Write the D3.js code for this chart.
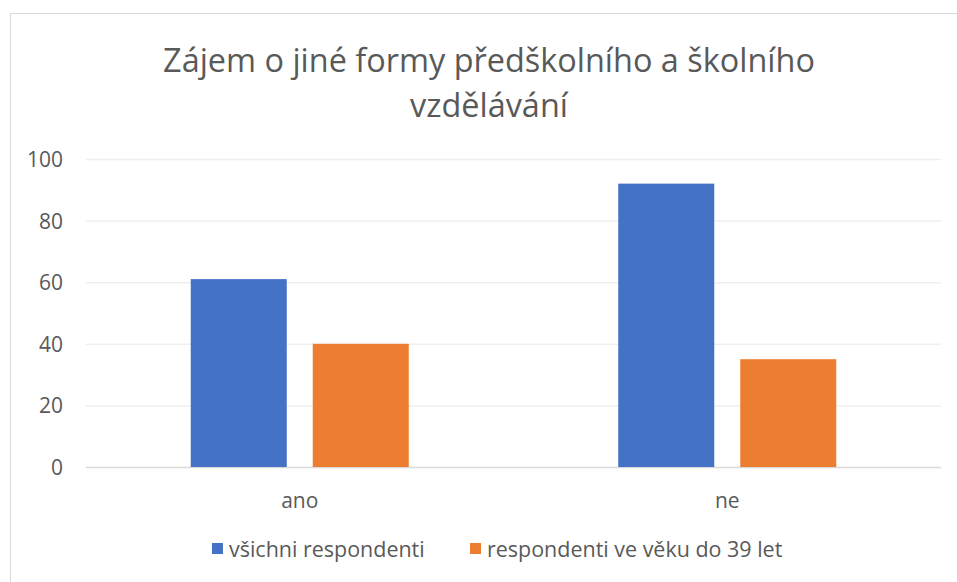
<!DOCTYPE html>
<html>
<head>
<meta charset="utf-8">
<script src="https://cdn.jsdelivr.net/npm/d3@7"></script>
<style>
  html, body { margin: 0; padding: 0; background: #fff; }
  svg { display: block; }
  text { font-family: "Open Sans", "Liberation Sans", "DejaVu Sans", sans-serif; fill: #595959; }
</style>
</head>
<body>
<svg id="chart" width="957" height="582"></svg>
<script>
const titleLines = ["Zájem o jiné formy předškolního a školního", "vzdělávání"];
const categories = ["ano", "ne"];
const seriesNames = ["všichni respondenti", "respondenti ve věku do 39 let"];
const allRespondents = [61, 92];
const under39 = [40, 35];
const yTickValues = [0, 20, 40, 60, 80, 100];
const seriesColors = ["#4472C4", "#ED7D31"];

const svg = d3.select("#chart");

// font size that makes an element's text reach a target width
function fittedSize(node, target) {
  const base = 20;
  d3.select(node).attr("font-size", base);
  const w = node.getComputedTextLength();
  return w > 0 ? base * target / w : base;
}

// outer chart border
svg.append("rect")
  .attr("x", 10.5).attr("y", 13.5)
  .attr("width", 960).attr("height", 600)
  .attr("fill", "#fff").attr("stroke", "#d9d9d9").attr("stroke-width", 1);

const plot = { left: 86, right: 941, top: 159, bottom: 467 };

const x = d3.scaleBand().domain(categories).range([plot.left, plot.right]).padding(0);
const groupWidth = x.bandwidth() * 0.51;
const xInner = d3.scaleBand().domain(seriesNames).range([0, groupWidth]).paddingInner(0.213).paddingOuter(0);
const y = d3.scaleLinear().domain([0, 100]).range([plot.bottom, plot.top]);

// gridlines + y labels
const yAxis = d3.axisLeft(y).tickValues(yTickValues).tickSize(-(plot.right - plot.left)).tickPadding(23);
const gy = svg.append("g").attr("transform", `translate(${plot.left},0)`).call(yAxis);
gy.select(".domain").remove();
gy.selectAll(".tick line").attr("stroke", d => d === 0 ? "#d9d9d9" : "#efefef").attr("stroke-width", 1.5);
const tickTexts = gy.selectAll(".tick text")
  .attr("dy", "0.36em")
  .style("fill", "#595959")
  .style("font-family", "'Open Sans', 'Liberation Sans', sans-serif");
const tickSize = fittedSize(tickTexts.filter(d => d === 100).node(), 36);
tickTexts.attr("font-size", tickSize);

// bars
const data = categories.map((c, i) => ({ cat: c, values: [allRespondents[i], under39[i]] }));
const groups = svg.append("g").selectAll("g").data(data).join("g")
  .attr("transform", d => `translate(${x(d.cat) + (x.bandwidth() - groupWidth) / 2},0)`);
groups.selectAll("rect")
  .data(d => d.values.map((v, j) => ({ key: seriesNames[j], value: v, color: seriesColors[j] })))
  .join("rect")
  .attr("x", d => xInner(d.key))
  .attr("width", xInner.bandwidth())
  .attr("y", d => y(d.value))
  .attr("height", d => y(0) - y(d.value))
  .attr("fill", d => d.color);

// x labels
const xAxis = d3.axisBottom(x).tickSize(0).tickPadding(26);
const gx = svg.append("g").attr("transform", `translate(0,${plot.bottom})`).call(xAxis);
gx.select(".domain").remove();
gx.selectAll(".tick text")
  .attr("font-size", tickSize)
  .style("fill", "#595959")
  .style("font-family", "'Open Sans', 'Liberation Sans', sans-serif");

// title
const titles = svg.append("g").selectAll("text").data(titleLines).join("text")
  .attr("x", 489)
  .attr("y", (d, i) => 72 + i * 45)
  .attr("text-anchor", "middle")
  .text(d => d);
const titleSize = fittedSize(titles.nodes()[0], 652);
titles.attr("font-size", titleSize);

// legend
const legendItems = [
  { name: seriesNames[0], color: seriesColors[0], x: 212, w: 191 },
  { name: seriesNames[1], color: seriesColors[1], x: 470, w: 303 }
];
const lg = svg.append("g").selectAll("g").data(legendItems).join("g")
  .attr("transform", d => `translate(${d.x},543)`);
lg.append("rect").attr("width", 11).attr("height", 11).attr("fill", d => d.color);
const lt = lg.append("text").attr("x", 17).attr("y", 14).text(d => d.name);
const sizes = lt.nodes().map((n, i) => fittedSize(n, legendItems[i].w));
lt.attr("font-size", d3.mean(sizes));
</script>
</body>
</html>
